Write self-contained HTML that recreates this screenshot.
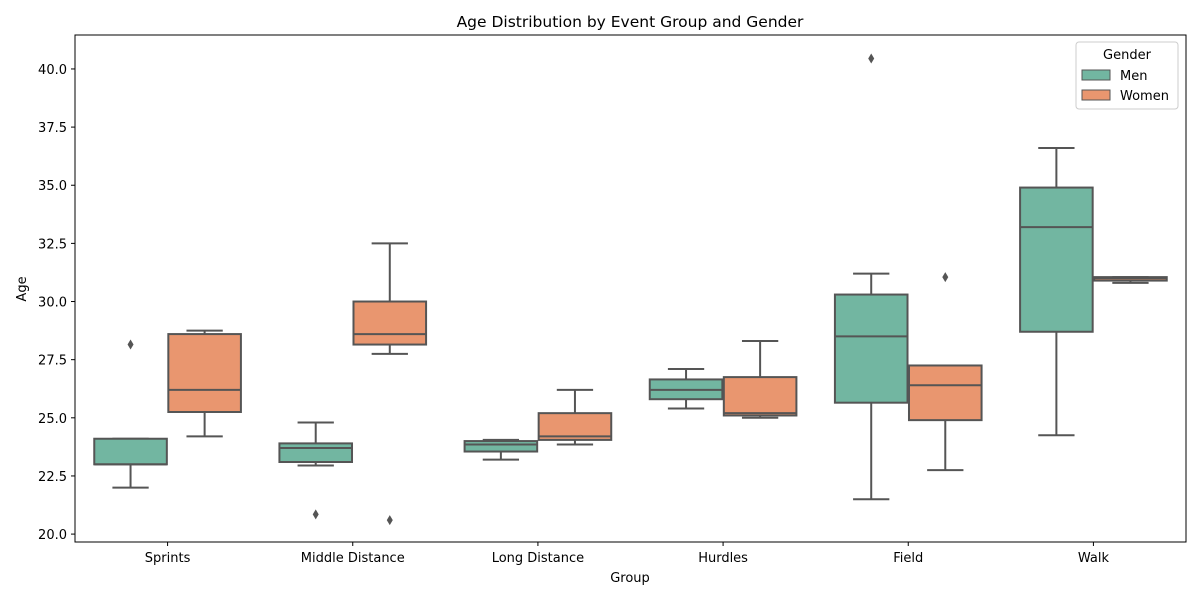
<!DOCTYPE html>
<html><head><meta charset="utf-8"><style>
body{margin:0;background:#fff;}
svg text{font-family:"DejaVu Sans","Liberation Sans",sans-serif;fill:#000;}
</style></head><body>
<svg id="chart" width="1200" height="600" xmlns="http://www.w3.org/2000/svg">
<text x="630" y="27" font-size="15.5" text-anchor="middle">Age Distribution by Event Group and Gender</text>
<g id="marks"></g>
<rect x="75" y="35" width="1111" height="507" fill="none" stroke="#000" stroke-width="1"/>
<text x="630" y="582" font-size="13" text-anchor="middle">Group</text>
<text transform="translate(26,289) rotate(-90)" font-size="13" text-anchor="middle">Age</text>
<g>
<rect x="1076" y="42" width="102" height="67" rx="3" fill="#fff" stroke="#ccc"/>
<text x="1127" y="59" font-size="13" text-anchor="middle">Gender</text>
<rect x="1082" y="70" width="28" height="10" fill="#72b6a1" stroke="#555"/>
<text x="1120" y="80" font-size="13">Men</text>
<rect x="1082" y="90" width="28" height="10" fill="#e9966f" stroke="#555"/>
<text x="1120" y="100" font-size="13">Women</text>
</g>
</svg>
<script>
const categories=["Sprints","Middle Distance","Long Distance","Hurdles","Field","Walk"];
const yTicks=[20.0,22.5,25.0,27.5,30.0,32.5,35.0,37.5,40.0];
// [low whisker, q1, median, q3, high whisker]
const menStats=[[22.0,23.0,23.0,24.1,24.1],[22.95,23.1,23.7,23.9,24.8],[23.2,23.55,23.85,24.0,24.05],[25.4,25.8,26.2,26.65,27.1],[21.5,25.65,28.5,30.3,31.2],[24.25,28.7,33.2,34.9,36.6]];
const womenStats=[[24.2,25.25,26.2,28.6,28.75],[27.75,28.15,28.6,30.0,32.5],[23.85,24.05,24.2,25.2,26.2],[25.0,25.1,25.2,26.75,28.3],[22.75,24.9,26.4,27.25,27.25],[30.8,30.9,31.0,31.05,31.05]];
const menOutliers=[[28.15],[20.85],[],[],[40.45],[]];
const womenOutliers=[[],[20.6],[],[],[31.05],[]];
const NS="http://www.w3.org/2000/svg";
const L=75,R=1186,T=35,B=542,ymin=19.66,ymax=41.46;
const xs=i=>L+(i+0.5)*(R-L)/categories.length;
const ys=v=>B-(v-ymin)/(ymax-ymin)*(B-T);
const band=(R-L)/categories.length;
function mk(tag,attrs,parent){const e=document.createElementNS(NS,tag);for(const k in attrs)e.setAttribute(k,attrs[k]);parent.appendChild(e);return e;}
const svg=document.getElementById('chart');const g=document.getElementById('marks');
yTicks.forEach(v=>{
 const t=mk('line',{x1:L-4,x2:L,y1:ys(v),y2:ys(v),stroke:'#000'},svg);
 
 
 const tx=mk('text',{x:L-8,y:ys(v)+5,'font-size':13,'text-anchor':'end'},svg);
 
 
 tx.textContent=v.toFixed(1);
});
categories.forEach((c,i)=>{
 const t=mk('line',{x1:xs(i),x2:xs(i),y1:B,y2:B+4,stroke:'#000'},svg);
 
 
 const tx=mk('text',{x:xs(i),y:B+20,'font-size':13,'text-anchor':'middle'},svg);
 
 
 tx.textContent=c;
});
const bw=band*0.4*0.98;
function drawBox(s,outs,cx,fill,name){
 const grp=mk('g',{},g);
 
 
 const st={stroke:'#555','stroke-width':2};
 mk('line',Object.assign({x1:cx,x2:cx,y1:ys(s[0]),y2:ys(s[1])},st),grp);
 mk('line',Object.assign({x1:cx,x2:cx,y1:ys(s[3]),y2:ys(s[4])},st),grp);
 mk('line',Object.assign({x1:cx-bw/4,x2:cx+bw/4,y1:ys(s[0]),y2:ys(s[0])},st),grp);
 mk('line',Object.assign({x1:cx-bw/4,x2:cx+bw/4,y1:ys(s[4]),y2:ys(s[4])},st),grp);
 mk('rect',Object.assign({x:cx-bw/2,y:ys(s[3]),width:bw,height:Math.max(0.5,ys(s[1])-ys(s[3])),fill:fill},st),grp);
 mk('line',Object.assign({x1:cx-bw/2,x2:cx+bw/2,y1:ys(s[2]),y2:ys(s[2])},st),grp);
 outs.forEach(o=>{const y=ys(o);mk('path',{d:`M${cx} ${y-5}L${cx+3} ${y}L${cx} ${y+5}L${cx-3} ${y}Z`,fill:'#555'},grp);});
}
categories.forEach((c,i)=>{
 const key=c.toLowerCase().replace(/ /g,'-');
 drawBox(menStats[i],menOutliers[i],xs(i)-band*0.2,'#72b6a1','box-men-'+key);
 drawBox(womenStats[i],womenOutliers[i],xs(i)+band*0.2,'#e9966f','box-women-'+key);
});
</script>
</body></html>
